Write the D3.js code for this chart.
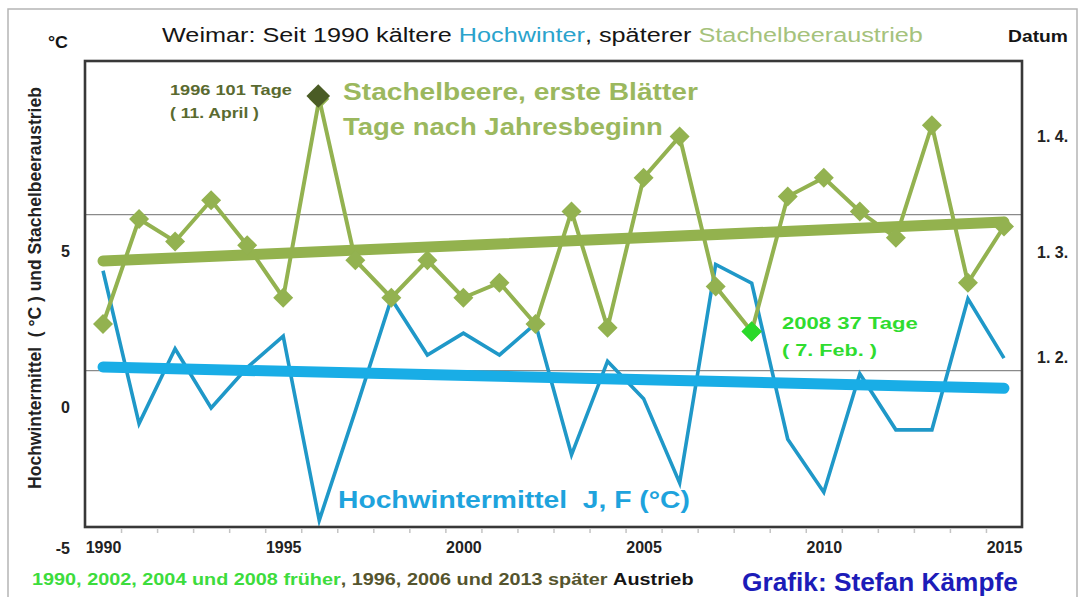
<!DOCTYPE html>
<html><head><meta charset="utf-8">
<script src="https://cdn.jsdelivr.net/npm/d3@7"></script>
<style>
body{margin:0;background:#fff}
svg{display:block}
text{font-family:"Liberation Sans",Arial,sans-serif}
</style>
</head><body>
<svg id="c" width="1079" height="597"></svg>
<script>
// ---------- data ----------
const years = [1990,1991,1992,1993,1994,1995,1996,1997,1998,1999,2000,2001,2002,2003,2004,2005,2006,2007,2008,2009,2010,2011,2012,2013,2014,2015];
// Hochwintermittel Januar/Februar (°C)
const winterTemp = [4.4,-0.5,1.9,0.0,1.3,2.3,-3.6,-0.1,3.5,1.7,2.4,1.7,2.7,-1.5,1.5,0.3,-2.4,4.6,4.0,-1.0,-2.7,1.1,-0.7,-0.7,3.5,1.6];
// Stachelbeere, erste Blätter: Tage nach Jahresbeginn
const leafDays = [41,69,63,74,62,48,101,58,48,58,48,52,41,71,40,80,91,51,39,75,80,71,64,94,52,67];
const tempTicks = [5, 0, -5];
const dateTicks = [32, 60, 91];
const dateTickLabels = ["1. 2.", "1. 3.", "1. 4."];
const yearTickLabels = [1990, 1995, 2000, 2005, 2010, 2015];
const gridTemps = [1.2, 6.2];
const lateYear = 1996, earlyYear = 2008;

// ---------- layout ----------
const svg = d3.select("#c");
const X0 = 85, X1 = 1022, Y0 = 61, Y1 = 527;
const x = d3.scaleLinear().domain([1989.5, 2015.5]).range([X0, X1]);
const yT = d3.scaleLinear().domain([0, 5]).range([408, 252]);
const yD = d3.scaleLinear().domain([0, 100]).range([477.75, 102.75]);

function regression(xs, ys) {
  const mx = d3.mean(xs), my = d3.mean(ys);
  let sxy = 0, sxx = 0;
  xs.forEach((v, i) => { sxy += (v - mx) * (ys[i] - my); sxx += (v - mx) * (v - mx); });
  const b = sxy / sxx;
  return v => my + b * (v - mx);
}

// outer border
svg.append("rect").attr("x", 8).attr("y", 9).attr("width", 1069).attr("height", 600)
  .attr("fill", "#fff").attr("stroke", "#b5b5b5").attr("stroke-width", 1.5);

// gridlines
svg.selectAll("line.grid").data(gridTemps).join("line").attr("class", "grid")
  .attr("x1", X0).attr("x2", X1).attr("y1", d => yT(d)).attr("y2", d => yT(d))
  .attr("stroke", "#8a8a8a").attr("stroke-width", 1.2);

// small category ticks
const bounds = years.slice(0, -1).map(y => y + 0.5);
const minor = svg.append("g").attr("transform", `translate(0,${Y1 + 2})`)
  .call(d3.axisBottom(x).tickValues(bounds).tickSize(4).tickFormat(""));
minor.select(".domain").remove();
minor.selectAll("line").attr("stroke", "#c4c4c4").attr("stroke-width", 1.5);

// series
const blueLine = d3.line().x((d, i) => x(years[i])).y(d => yT(d));
svg.append("path").datum(winterTemp).attr("d", blueLine)
  .attr("fill", "none").attr("stroke", "#1f98c8").attr("stroke-width", 3.6)
  .attr("stroke-linejoin", "miter").attr("stroke-miterlimit", 6);

const greenLine = d3.line().x((d, i) => x(years[i])).y(d => yD(d));
svg.append("path").datum(leafDays).attr("d", greenLine)
  .attr("fill", "none").attr("stroke", "#93b250").attr("stroke-width", 4)
  .attr("stroke-linejoin", "miter").attr("stroke-miterlimit", 6);

// trends
const tB = regression(years, winterTemp);
const tG = regression(years, leafDays);
const ends = [years[0], years[years.length - 1]];
svg.append("line")
  .attr("x1", x(ends[0])).attr("x2", x(ends[1]))
  .attr("y1", yT(tB(ends[0]))).attr("y2", yT(tB(ends[1])))
  .attr("stroke", "#19ade6").attr("stroke-width", 11).attr("stroke-linecap", "round");
svg.append("line")
  .attr("x1", x(ends[0])).attr("x2", x(ends[1]))
  .attr("y1", yD(tG(ends[0]))).attr("y2", yD(tG(ends[1])))
  .attr("stroke", "#93b24e").attr("stroke-width", 11).attr("stroke-linecap", "round");

// diamonds
const diamond = s => d3.symbol(d3.symbolSquare, s)();
svg.selectAll("path.dia").data(leafDays).join("path").attr("class", "dia")
  .attr("d", diamond(200))
  .attr("transform", (d, i) => `translate(${x(years[i])},${yD(d)}) rotate(45)`)
  .attr("fill", "#93b250");
const li = years.indexOf(lateYear), ei = years.indexOf(earlyYear);
svg.append("path").attr("d", diamond(280))
  .attr("transform", `translate(${x(lateYear) - 1},${yD(leafDays[li]) - 3}) rotate(45)`)
  .attr("fill", "#4a5c25");
svg.append("path").attr("d", diamond(210))
  .attr("transform", `translate(${x(earlyYear)},${yD(leafDays[ei])}) rotate(45)`)
  .attr("fill", "#2ad92a");

// frame
svg.append("rect").attr("x", X0).attr("y", Y0).attr("width", X1 - X0).attr("height", Y1 - Y0)
  .attr("fill", "none").attr("stroke", "#383838").attr("stroke-width", 2.6);

// axes labels
const FONT = "Liberation Sans, Arial, sans-serif";
const xa = svg.append("g").attr("transform", `translate(0,${Y1 + 12})`)
  .call(d3.axisBottom(x).tickValues(yearTickLabels).tickFormat(d => String(d)).tickSize(0));
xa.select(".domain").remove();
xa.selectAll("text").attr("font-size", 16).attr("font-weight", "bold").attr("fill", "#222")
  .attr("font-family", FONT);

const ya = svg.append("g").attr("transform", `translate(70,0)`)
  .call(d3.axisLeft(yT).tickValues(tempTicks).tickFormat(d => String(d)).tickSize(0));
ya.select(".domain").remove();
ya.selectAll(".tick").attr("transform", d => `translate(0,${Math.min(yT(d), Y1 + 22)})`);
ya.selectAll("text").attr("x", 0).attr("font-size", 16).attr("font-weight", "bold").attr("fill", "#222")
  .attr("font-family", FONT);

const ra = svg.append("g").attr("transform", `translate(1037,0)`)
  .call(d3.axisRight(yD).tickValues(dateTicks).tickFormat((d, i) => dateTickLabels[i]).tickSize(0));
ra.select(".domain").remove();
ra.selectAll("text").attr("x", 0).attr("font-size", 16).attr("font-weight", "bold").attr("fill", "#222")
  .attr("font-family", FONT).style("white-space", "pre");

// ---------- texts ----------
function label(parts, x0, base, width, size, weight) {
  const g = svg.append("g");
  const t = g.append("text").attr("x", 0).attr("y", 0)
    .attr("font-size", size).attr("font-weight", weight || "bold").style("white-space", "pre");
  parts.forEach(p => t.append("tspan").text(p[0]).attr("fill", p[1]));
  const w = t.node().getComputedTextLength();
  const k = width ? width / w : 1;
  g.attr("transform", `translate(${x0},${base}) scale(${k},1)`);
  return g;
}

label([["Weimar: Seit 1990 kältere ", "#151515"], ["Hochwinter", "#2aa3cc"], [", späterer ", "#151515"], ["Stachelbeeraustrieb", "#a5c27c"]], 162, 42, 760, 21, "normal");
label([["°C", "#151515"]], 48, 48, 20, 16);
label([["Datum", "#151515"]], 1008, 42, 60, 16);

svg.append("text").attr("transform", "translate(41,288) rotate(-90)")
  .attr("text-anchor", "middle").attr("font-size", 17.5).attr("font-weight", "bold")
  .attr("fill", "#222").style("white-space", "pre")
  .text("Hochwintermittel  ( °C ) und Stachelbeeraustrieb");

label([["Stachelbeere, erste Blätter", "#9bb85e"]], 343, 100, 355, 24);
label([["Tage nach Jahresbeginn", "#9bb85e"]], 343, 135, 320, 24);
label([["1996 101 Tage", "#5a6a30"]], 170, 95, 122, 14);
label([["( 11. April )", "#5a6a30"]], 170, 118, 89, 14);
label([["2008 37 Tage", "#2fdc2f"]], 782, 329, 136, 17);
label([["( 7. Feb. )", "#2fdc2f"]], 782, 356, 95, 17);
label([["Hochwintermittel  J, F (°C)", "#1ea3dd"]], 338, 508, 352, 24);
label([["1990, 2002, 2004 und 2008 früher", "#3ddc3d"], [", 1996, 2006 und 2013 später ", "#55552e"], ["Austrieb", "#151515"]], 32, 585, 660, 16);
label([["Grafik: Stefan Kämpfe", "#1c1cb8"]], 742, 591, 276, 26);
</script>
</body></html>
